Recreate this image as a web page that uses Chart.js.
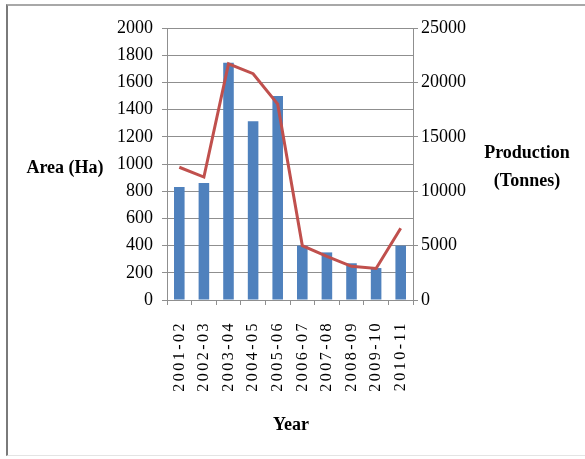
<!DOCTYPE html>
<html>
<head>
<meta charset="utf-8">
<script src="https://cdn.jsdelivr.net/npm/chart.js@4"></script>
<style>
  body { margin: 0; background: #fff; }
  #wrap { position: relative; width: 585px; height: 459px; }
  #frame { position: absolute; left: 6px; top: 4px; right: 0; bottom: 3px;
           border-top: 2px solid #a8a8a8; border-left: 2px solid #7a7a7a; border-bottom: 1px solid #e4e4e4; }
  canvas { position: absolute; left: 0; top: 0; }
</style>
</head>
<body>
<div id="wrap">
  <div id="frame"></div>
  <canvas id="areaChart" width="585" height="459"></canvas>
</div>
<script>
const years = ['2001-02', '2002-03', '2003-04', '2004-05', '2005-06', '2006-07', '2007-08', '2008-09', '2009-10', '2010-11'];
const areaHa = [830, 860, 1745, 1315, 1500, 400, 350, 270, 235, 400];
const productionTonnes = [12200, 11300, 21700, 20800, 18000, 5000, 4000, 3100, 2900, 6600];

const serif = '"Liberation Serif", "Times New Roman", serif';
const axisGrey = '#8f8f8f';

// axis titles are horizontal in the original, so draw them by hand
const axisTitles = {
  id: 'axisTitles',
  afterLayout(chart) {
    // the year labels are spaced out in the original
    const xScale = chart.scales.x;
    if (xScale._spaced) return;
    const baseDraw = xScale.drawLabels;
    xScale.drawLabels = function (area) {
      this.ctx.save();
      this.ctx.letterSpacing = '2.5px';
      baseDraw.call(this, area);
      this.ctx.restore();
    };
    xScale._spaced = true;
  },
  afterDraw(chart) {
    const ctx = chart.ctx;
    ctx.save();
    ctx.fillStyle = '#000';
    ctx.font = 'bold 18px ' + serif;
    ctx.textAlign = 'center';
    ctx.textBaseline = 'middle';
    ctx.fillText('Area (Ha)', 65, 168);
    ctx.fillText('Production', 527, 153);
    ctx.fillText('(Tonnes)', 527, 181);
    ctx.fillText('Year', 291, 425);
    ctx.restore();
  }
};

const ctx = document.getElementById('areaChart').getContext('2d');
new Chart(ctx, {
  type: 'bar',
  data: {
    labels: years,
    datasets: [
      {
        type: 'line',
        label: 'Production (Tonnes)',
        data: productionTonnes,
        yAxisID: 'y1',
        borderColor: '#C0504D',
        borderWidth: 3,
        pointRadius: 0,
        tension: 0,
        order: 0
      },
      {
        label: 'Area (Ha)',
        data: areaHa,
        yAxisID: 'y',
        backgroundColor: '#4F81BD',
        barPercentage: 0.43,
        categoryPercentage: 1,
        order: 1
      }
    ]
  },
  options: {
    responsive: false,
    animation: false,
    layout: { padding: { left: 107, right: 112, top: 28, bottom: 0 } },
    plugins: {
      legend: { display: false },
      tooltip: { enabled: false }
    },
    scales: {
      x: {
        offset: true,
        grid: { offset: true, drawOnChartArea: false, tickLength: 5, color: axisGrey },
        border: { color: axisGrey },
        ticks: {
          minRotation: 90, maxRotation: 90, padding: 16,
          color: '#000', font: { family: serif, size: 16 }
        },
        afterFit(scale) { scale.height = 159; }
      },
      y: {
        position: 'left',
        min: 0, max: 2000,
        grid: { color: axisGrey, tickLength: 5 },
        border: { color: axisGrey },
        ticks: {
          stepSize: 200, padding: 9, color: '#000', font: { family: serif, size: 18 },
          callback: (v) => String(v)
        },
        afterFit(scale) { scale.width = 60; }
      },
      y1: {
        position: 'right',
        min: 0, max: 25000,
        grid: { drawOnChartArea: false, color: axisGrey, tickLength: 5 },
        border: { color: axisGrey },
        ticks: {
          stepSize: 5000, padding: 3, color: '#000', font: { family: serif, size: 18 },
          callback: (v) => String(v)
        },
        afterFit(scale) { scale.width = 60; }
      }
    }
  },
  plugins: [axisTitles]
});
</script>
</body>
</html>
